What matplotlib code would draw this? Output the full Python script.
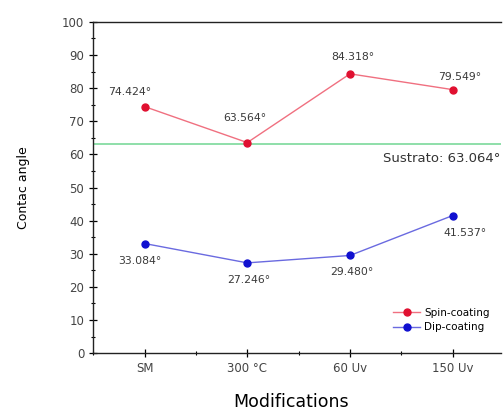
import matplotlib
matplotlib.use("Agg")
import matplotlib.pyplot as plt
from matplotlib.ticker import MultipleLocator

categories = ["SM", "300 °C", "60 Uv", "150 Uv"]
spin = [74.424, 63.564, 84.318, 79.549]
dip = [33.084, 27.246, 29.480, 41.537]
substrate = 63.064
spin_labels = ["74.424°", "63.564°", "84.318°", "79.549°"]
dip_labels = ["33.084°", "27.246°", "29.480°", "41.537°"]

plt.rcParams['font.family'] = ['DejaVu Sans']
fig = plt.figure(figsize=(5.04, 4.13), dpi=100)
ax = fig.add_axes([0.185, 0.145, 0.809, 0.802])

x = list(range(len(categories)))
ax.axhline(substrate, color='#86dca2', lw=1.3, zorder=1)
ax.plot(x, spin, color='#f07080', lw=1.0, marker='o', ms=5, mfc='#e01030', mec='#e01030', label='Spin-coating', zorder=3)
ax.plot(x, dip, color='#6a6ae0', lw=1.0, marker='o', ms=5, mfc='#1010d0', mec='#1010d0', label='Dip-coating', zorder=3)

spin_off = [(-10.4, 10.4), (-2, 17.7), (2, 12), (5, 9.4)]
dip_off = [(-3.6, -12.6), (1.4, -12.2), (1.4, -12.2), (8.6, -12.6)]
for i in x:
    ax.annotate(spin_labels[i], (x[i], spin[i]), xytext=spin_off[i], textcoords='offset points',
                ha='center', va='center', fontsize=7.8, color='#3a3a3a')
    ax.annotate(dip_labels[i], (x[i], dip[i]), xytext=dip_off[i], textcoords='offset points',
                ha='center', va='center', fontsize=7.8, color='#3a3a3a')

ax.text(3.46, substrate - 2.2, "Sustrato: 63.064°", ha='right', va='top', fontsize=9.5, color='#333333')

ax.set_xlim(-0.5, 3.47)
ax.set_ylim(0, 100)
ax.set_xticks(x)
ax.set_xticklabels(categories)
ax.xaxis.set_minor_locator(MultipleLocator(0.5))
ax.yaxis.set_major_locator(MultipleLocator(10))
ax.yaxis.set_minor_locator(MultipleLocator(5))
ax.tick_params(which='major', direction='inout', length=6, width=0.9, labelsize=8.5, labelcolor='#444444')
ax.tick_params(which='minor', direction='inout', length=3, width=0.8)
ax.spines['right'].set_visible(False)
for s in ax.spines.values():
    s.set_linewidth(1.0)
    s.set_color('#222222')

ax.set_ylabel("Contac angle", fontsize=9, labelpad=23)
fig.text(0.577, 0.006, "Modifications", fontsize=12.5, ha='center', va='bottom')

leg = ax.legend(loc='lower right', frameon=False, fontsize=7.5, handlelength=2.6,
                borderaxespad=0.0, labelspacing=0.45, handletextpad=0.4, bbox_to_anchor=(0.983, 0.05))

fig.savefig("out.png", dpi=100)
